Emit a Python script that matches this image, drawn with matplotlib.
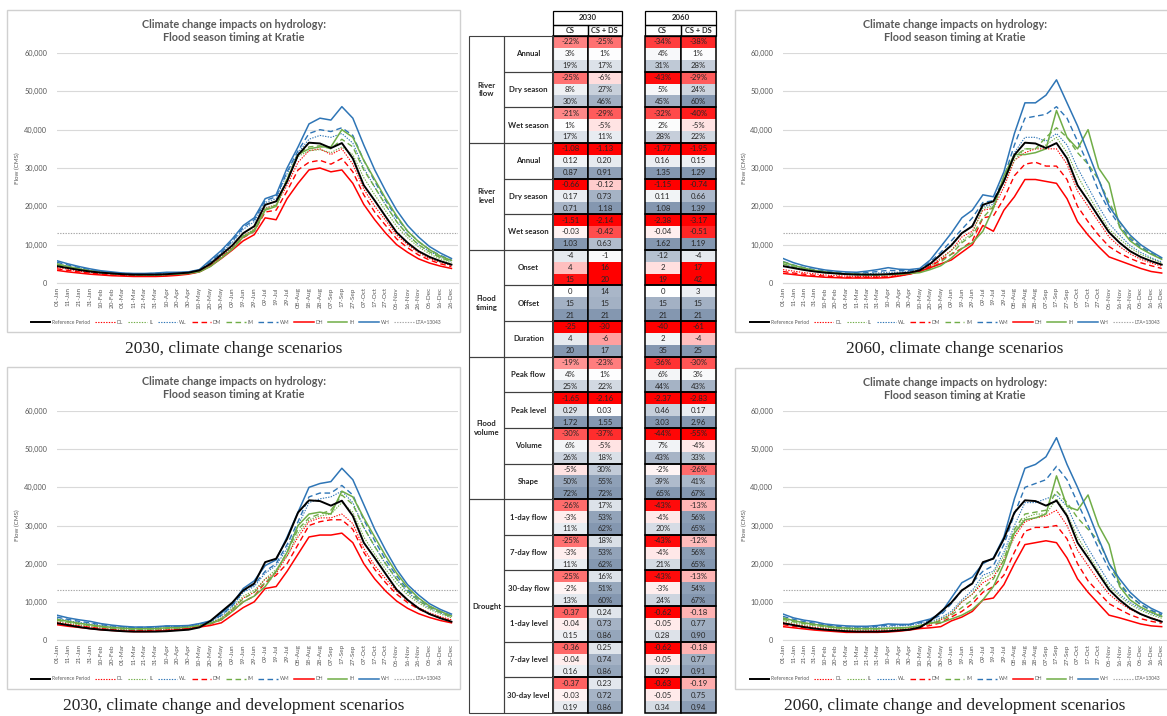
import numpy as np
import matplotlib.pyplot as plt
from matplotlib.patches import Rectangle

plt.rcParams['font.family'] = ['Lato', 'DejaVu Sans']

# x axis: one label every 10 days (leap year)
DATES = ["01-Jan", "11-Jan", "21-Jan", "31-Jan", "10-Feb", "20-Feb", "01-Mar", "11-Mar",
         "21-Mar", "31-Mar", "10-Apr", "20-Apr", "30-Apr", "10-May", "20-May", "30-May",
         "09-Jun", "19-Jun", "29-Jun", "09-Jul", "19-Jul", "29-Jul", "08-Aug", "18-Aug",
         "28-Aug", "07-Sep", "17-Sep", "27-Sep", "07-Oct", "17-Oct", "27-Oct", "06-Nov",
         "16-Nov", "26-Nov", "06-Dec", "16-Dec", "26-Dec"]
LTA = 13043

# flows at Kratie in thousand CMS, read at each date label
REF = [4.4, 3.9, 3.4, 3.0, 2.7, 2.5, 2.3, 2.2, 2.2, 2.2, 2.3, 2.5, 2.7, 3.3, 5.0, 7.4, 9.8, 13.0, 14.8,
       20.4, 21.3, 26.5, 33.4, 36.6, 36.4, 35.2, 36.5, 32.5, 25.5, 21.5, 17.3, 13.2, 10.5, 8.3, 6.8, 5.7, 4.8]

# 2030, climate change scenarios
A_DL = [4.1, 3.6, 3.1, 2.8, 2.5, 2.3, 2.1, 2.0, 2.0, 2.0, 2.1, 2.3, 2.5, 3.1, 4.7, 7.0, 9.2, 12.3, 14.0,
        19.5, 20.3, 25.5, 31.5, 34.5, 35.0, 33.5, 35.0, 31.0, 24.5, 20.0, 16.3, 12.5, 10.0, 7.9, 6.4, 5.4, 4.6]
A_IL = [4.5, 3.9, 3.4, 3.0, 2.6, 2.4, 2.2, 2.1, 2.1, 2.1, 2.2, 2.3, 2.5, 3.0, 4.6, 6.8, 9.2, 12.4, 14.0,
        19.5, 20.5, 27.0, 33.0, 34.5, 34.8, 34.0, 35.5, 33.5, 27.5, 23.0, 18.8, 14.8, 11.8, 9.4, 7.6, 6.3, 5.3]
A_WL = [5.0, 4.4, 3.8, 3.3, 2.9, 2.6, 2.4, 2.3, 2.3, 2.4, 2.6, 2.6, 2.7, 3.3, 5.4, 7.8, 10.6, 14.0, 16.0,
        21.0, 22.0, 28.5, 34.0, 37.5, 38.5, 38.0, 39.0, 36.5, 30.0, 25.0, 20.3, 16.0, 12.6, 10.0, 8.2, 6.8, 5.7]
A_DM = [3.7, 3.3, 2.9, 2.6, 2.3, 2.1, 2.0, 1.9, 1.9, 1.9, 2.0, 2.2, 2.4, 3.0, 4.6, 6.8, 9.0, 11.8, 13.5,
        18.5, 19.0, 24.0, 29.5, 31.5, 32.0, 31.0, 32.5, 29.0, 23.0, 18.5, 15.0, 11.5, 9.2, 7.3, 6.0, 5.0, 4.3]
A_IM = [4.8, 4.1, 3.6, 3.1, 2.7, 2.5, 2.3, 2.2, 2.1, 2.1, 2.2, 2.3, 2.5, 2.9, 4.4, 6.6, 9.0, 12.2, 13.8,
        19.2, 20.2, 27.2, 33.7, 35.5, 35.8, 35.0, 37.5, 35.5, 29.5, 25.0, 20.3, 16.0, 12.6, 10.0, 8.1, 6.6, 5.6]
A_WM = [5.4, 4.7, 4.0, 3.5, 3.0, 2.7, 2.5, 2.4, 2.4, 2.5, 2.7, 2.7, 2.8, 3.4, 5.6, 8.0, 11.0, 14.5, 16.5,
        21.5, 22.5, 29.0, 34.5, 39.0, 40.0, 39.5, 40.5, 38.5, 32.0, 26.5, 21.5, 17.0, 13.5, 10.8, 8.7, 7.2, 6.0]
A_DH = [3.3, 2.9, 2.6, 2.3, 2.1, 1.9, 1.8, 1.7, 1.7, 1.7, 1.8, 2.0, 2.3, 2.9, 4.4, 6.4, 8.6, 11.0, 12.6,
        17.0, 16.5, 22.0, 26.0, 29.5, 30.0, 29.0, 29.5, 26.0, 20.5, 16.5, 13.0, 10.0, 8.0, 6.3, 5.2, 4.4, 3.8]
A_IH = [5.0, 4.3, 3.7, 3.2, 2.8, 2.5, 2.3, 2.2, 2.1, 2.1, 2.2, 2.3, 2.5, 2.9, 4.3, 6.5, 8.8, 12.0, 13.5,
        19.0, 20.0, 27.0, 33.5, 35.0, 35.5, 35.5, 40.0, 38.0, 32.0, 27.0, 22.0, 17.5, 13.5, 10.8, 8.7, 7.0, 5.9]
A_WH = [5.8, 5.0, 4.3, 3.7, 3.2, 2.9, 2.6, 2.5, 2.5, 2.6, 2.8, 2.8, 2.9, 3.5, 6.0, 8.5, 11.5, 15.0, 17.0,
        22.0, 23.0, 30.0, 35.5, 41.5, 43.0, 42.5, 46.0, 43.0, 36.0, 29.5, 24.0, 19.0, 15.0, 12.0, 9.5, 7.8, 6.4]

# 2060, climate change scenarios
B_DL = [3.5, 3.1, 2.7, 2.4, 2.1, 1.9, 1.8, 1.7, 1.7, 1.7, 1.8, 2.0, 2.4, 3.0, 4.5, 6.5, 8.5, 12.0, 13.5,
        19.0, 19.5, 25.0, 32.0, 34.0, 35.0, 35.0, 35.0, 31.0, 24.0, 20.0, 16.0, 12.0, 9.5, 7.6, 6.2, 5.2, 4.4]
B_IL = [4.6, 3.9, 3.4, 3.0, 2.6, 2.4, 2.2, 2.1, 2.1, 2.1, 2.2, 2.3, 2.5, 2.9, 4.2, 6.2, 8.5, 11.0, 13.0,
        19.5, 20.0, 26.5, 32.0, 35.0, 35.0, 36.0, 38.0, 34.0, 28.0, 23.0, 18.5, 14.0, 11.5, 9.2, 7.5, 6.3, 5.3]
B_WL = [5.0, 4.3, 3.7, 3.2, 2.9, 2.6, 2.4, 2.3, 2.4, 2.6, 2.8, 2.8, 3.0, 3.5, 5.2, 7.5, 10.0, 13.0, 15.0,
        20.0, 20.5, 26.5, 34.0, 38.0, 38.0, 37.0, 39.0, 36.0, 30.0, 25.0, 20.0, 15.5, 12.5, 9.8, 8.0, 6.6, 5.5]
B_DM = [3.0, 2.6, 2.3, 2.0, 1.8, 1.6, 1.5, 1.5, 1.5, 1.5, 1.6, 1.9, 2.3, 3.0, 4.3, 6.0, 7.5, 9.0, 11.0,
        17.0, 17.5, 22.0, 28.0, 31.0, 31.5, 30.5, 30.5, 27.0, 20.0, 16.0, 12.5, 9.5, 7.8, 6.4, 5.3, 4.5, 3.8]
B_IM = [5.0, 4.2, 3.6, 3.1, 2.7, 2.5, 2.3, 2.2, 2.1, 2.1, 2.2, 2.3, 2.5, 2.8, 3.8, 5.5, 7.5, 10.5, 12.5,
        17.0, 20.0, 27.0, 33.0, 35.0, 35.0, 38.0, 40.5, 38.0, 34.0, 31.0, 27.0, 21.0, 16.0, 12.0, 9.5, 7.8, 6.4]
B_WM = [5.6, 4.7, 4.0, 3.5, 3.1, 2.8, 2.6, 2.5, 2.7, 3.0, 3.3, 3.2, 3.2, 3.6, 5.5, 8.0, 11.0, 14.0, 17.0,
        21.0, 21.5, 27.5, 36.0, 43.0, 43.5, 44.0, 46.0, 43.0, 37.0, 31.0, 24.0, 19.0, 15.0, 11.5, 9.3, 7.7, 6.3]
B_DH = [2.5, 2.2, 1.9, 1.7, 1.5, 1.4, 1.3, 1.3, 1.3, 1.3, 1.4, 1.8, 2.3, 3.0, 4.0, 5.0, 6.0, 8.0, 10.0,
        15.0, 13.5, 19.0, 22.5, 27.0, 27.0, 26.5, 26.0, 22.0, 16.0, 12.5, 9.5, 6.8, 5.8, 4.8, 3.8, 3.0, 2.6]
B_IH = [5.5, 4.6, 3.9, 3.3, 2.9, 2.6, 2.4, 2.3, 2.2, 2.2, 2.2, 2.3, 2.5, 2.7, 3.5, 4.5, 6.5, 9.0, 10.5,
        13.5, 19.5, 28.0, 33.5, 33.5, 34.0, 35.0, 45.0, 38.0, 35.0, 40.0, 30.0, 26.0, 14.5, 11.0, 9.0, 7.5, 6.2]
B_WH = [6.4, 5.3, 4.5, 3.9, 3.4, 3.1, 2.9, 2.8, 3.1, 3.5, 4.0, 3.6, 3.5, 3.8, 6.0, 9.5, 13.0, 17.0, 19.0,
        23.0, 22.5, 29.0, 39.0, 47.0, 47.0, 49.0, 53.0, 47.0, 41.0, 34.0, 27.0, 20.0, 16.0, 12.5, 10.0, 8.2, 6.6]

# 2030, climate change and development scenarios
C_DL = [4.7, 4.2, 3.8, 3.4, 3.1, 2.8, 2.6, 2.5, 2.5, 2.6, 2.7, 2.9, 3.1, 3.7, 4.4, 5.7, 8.0, 11.0, 12.5,
        16.0, 17.5, 22.0, 27.0, 31.0, 32.0, 32.0, 33.0, 30.5, 24.0, 19.5, 16.0, 12.8, 10.3, 8.5, 7.1, 6.1, 5.3]
C_IL = [5.0, 4.5, 4.0, 3.7, 3.3, 3.0, 2.8, 2.7, 2.7, 2.8, 2.9, 3.0, 3.2, 3.8, 4.5, 5.8, 8.3, 11.5, 13.0,
        16.0, 18.5, 22.0, 28.0, 31.5, 32.5, 33.0, 36.0, 33.5, 27.0, 22.5, 18.5, 14.8, 11.8, 9.7, 8.0, 6.8, 5.8]
C_WL = [5.6, 5.1, 4.6, 4.2, 3.8, 3.5, 3.3, 3.2, 3.2, 3.3, 3.5, 3.5, 3.6, 4.1, 4.8, 6.3, 8.8, 12.5, 14.0,
        17.5, 19.5, 24.0, 30.0, 36.0, 37.0, 37.5, 39.0, 36.0, 29.5, 24.5, 19.8, 15.8, 12.5, 10.2, 8.4, 7.1, 6.1]
C_DM = [4.4, 4.0, 3.6, 3.3, 3.0, 2.7, 2.5, 2.4, 2.4, 2.5, 2.6, 2.8, 3.0, 3.6, 4.2, 5.3, 7.5, 10.0, 11.5,
        15.0, 17.0, 20.0, 25.0, 30.0, 31.0, 31.5, 31.5, 29.0, 23.0, 18.5, 15.0, 12.0, 9.8, 8.1, 6.8, 5.8, 5.0]
C_IM = [5.2, 4.7, 4.2, 3.8, 3.4, 3.1, 2.9, 2.8, 2.8, 2.9, 3.0, 3.1, 3.3, 3.8, 4.4, 5.6, 8.0, 10.8, 12.5,
        15.0, 18.0, 23.0, 29.0, 32.0, 33.0, 34.0, 38.0, 35.5, 29.5, 24.5, 20.0, 16.0, 12.8, 10.3, 8.5, 7.2, 6.1]
C_WM = [6.0, 5.4, 4.9, 4.5, 4.0, 3.7, 3.4, 3.3, 3.3, 3.4, 3.6, 3.6, 3.7, 4.2, 4.9, 6.5, 9.0, 12.8, 14.5,
        18.0, 20.0, 25.0, 31.0, 37.5, 38.5, 38.5, 40.5, 38.0, 31.5, 26.0, 21.0, 16.8, 13.2, 10.8, 8.8, 7.5, 6.4]
C_DH = [4.0, 3.6, 3.3, 3.0, 2.7, 2.5, 2.3, 2.2, 2.2, 2.3, 2.4, 2.6, 2.9, 3.4, 3.8, 4.5, 6.5, 8.5, 10.0,
        13.5, 14.0, 18.0, 22.5, 27.0, 27.5, 27.5, 28.0, 25.5, 20.0, 16.0, 12.8, 10.2, 8.3, 6.9, 5.9, 5.1, 4.5]
C_IH = [5.4, 4.9, 4.4, 4.0, 3.6, 3.3, 3.1, 3.0, 3.0, 3.0, 3.2, 3.3, 3.4, 3.8, 4.3, 5.3, 7.5, 10.0, 11.5,
        14.0, 18.0, 23.0, 30.0, 33.0, 33.5, 33.0, 39.0, 37.5, 32.0, 27.0, 22.0, 17.5, 13.8, 11.0, 8.9, 7.5, 6.3]
C_WH = [6.5, 5.8, 5.3, 4.9, 4.3, 3.9, 3.6, 3.4, 3.4, 3.5, 3.7, 3.7, 3.8, 4.3, 5.0, 7.0, 9.5, 13.5, 15.5,
        19.5, 21.0, 27.0, 33.5, 40.0, 41.0, 41.5, 45.0, 42.0, 35.5, 29.0, 23.5, 18.5, 14.5, 11.8, 9.5, 8.0, 6.8]

# 2060, climate change and development scenarios
D_DL = [4.6, 4.1, 3.7, 3.3, 3.0, 2.7, 2.5, 2.4, 2.4, 2.5, 2.6, 2.8, 3.0, 3.6, 4.2, 5.3, 6.8, 10.0, 12.0,
        15.0, 16.5, 21.0, 27.0, 31.0, 32.0, 32.5, 34.0, 30.0, 23.5, 19.5, 15.5, 12.0, 9.8, 8.0, 6.7, 5.8, 5.0]
D_IL = [5.0, 4.5, 4.0, 3.7, 3.3, 3.0, 2.8, 2.7, 2.7, 2.8, 2.9, 3.0, 3.2, 3.7, 4.3, 5.5, 7.0, 10.0, 12.0,
        16.0, 17.5, 22.0, 28.5, 32.0, 33.0, 33.0, 37.0, 33.0, 27.0, 22.5, 18.0, 14.0, 11.5, 9.3, 7.8, 6.6, 5.7]
D_WL = [5.6, 5.0, 4.5, 4.1, 3.7, 3.4, 3.2, 3.2, 3.2, 3.3, 3.6, 3.7, 3.8, 4.3, 4.8, 5.8, 7.5, 10.5, 13.0,
        17.0, 18.0, 23.0, 30.0, 36.0, 36.0, 37.0, 38.0, 35.0, 29.0, 24.0, 19.5, 15.0, 12.0, 9.8, 8.2, 7.0, 6.0]
D_DM = [4.0, 3.6, 3.2, 2.9, 2.6, 2.4, 2.2, 2.1, 2.1, 2.2, 2.3, 2.5, 2.8, 3.3, 3.8, 4.5, 6.0, 7.5, 9.5,
        12.5, 14.0, 17.0, 23.0, 28.5, 29.5, 29.5, 30.0, 26.5, 20.0, 15.5, 12.5, 9.5, 8.0, 6.6, 5.6, 4.9, 4.4]
D_IM = [5.4, 4.8, 4.3, 3.9, 3.5, 3.2, 3.0, 2.9, 2.9, 2.9, 3.0, 3.1, 3.3, 3.7, 4.4, 5.0, 6.5, 8.5, 10.5,
        13.5, 16.0, 21.0, 29.0, 33.0, 33.5, 34.0, 39.0, 36.0, 32.0, 29.0, 26.0, 20.0, 15.0, 11.5, 9.3, 7.7, 6.5]
D_WM = [6.2, 5.4, 4.8, 4.4, 3.9, 3.6, 3.4, 3.4, 3.4, 3.6, 3.9, 3.9, 4.0, 4.5, 5.2, 6.5, 9.5, 13.0, 15.0,
        18.0, 19.5, 25.0, 33.0, 40.0, 41.0, 42.0, 45.5, 42.0, 36.0, 30.0, 24.0, 18.5, 14.5, 11.5, 9.3, 7.8, 6.6]
D_DH = [3.5, 3.2, 2.9, 2.6, 2.4, 2.2, 2.0, 2.0, 2.0, 2.0, 2.1, 2.3, 2.6, 3.0, 3.2, 3.5, 5.0, 6.0, 7.5,
        10.5, 11.0, 14.5, 20.0, 25.0, 25.5, 26.0, 25.5, 21.5, 16.0, 12.5, 9.5, 6.5, 5.8, 5.0, 4.2, 3.7, 3.5]
D_IH = [5.8, 5.1, 4.5, 4.1, 3.7, 3.3, 3.1, 3.0, 3.0, 3.0, 3.1, 3.2, 3.3, 3.8, 4.5, 4.5, 5.5, 6.5, 8.0,
        10.5, 14.0, 20.0, 28.0, 31.5, 32.0, 33.0, 43.0, 35.0, 34.0, 38.0, 30.0, 25.0, 14.0, 10.5, 8.6, 7.3, 6.2]
D_WH = [6.8, 5.8, 5.2, 4.8, 4.2, 3.9, 3.7, 3.6, 3.6, 3.8, 4.2, 4.1, 4.1, 4.8, 5.5, 7.0, 11.0, 15.0, 16.5,
        20.0, 21.5, 27.0, 37.0, 45.0, 46.0, 48.0, 53.0, 46.0, 40.0, 33.5, 26.5, 20.0, 16.0, 12.5, 10.0, 8.3, 7.0]

# table: change indicators, 3 values (low / mid / high) per indicator
CATEGORIES = ["River\nflow", "River\nlevel", "Flood\ntiming", "Flood\nvolume", "Drought"]
CAT_SIZES = [3, 3, 3, 4, 6]
INDICATORS = ["Annual", "Dry season", "Wet season", "Annual", "Dry season", "Wet season",
              "Onset", "Offset", "Duration", "Peak flow", "Peak level", "Volume", "Shape",
              "1-day flow", "7-day flow", "30-day flow", "1-day level", "7-day level", "30-day level"]
UNITS = ["%", "%", "%", "m", "m", "m", "d", "d", "d", "%", "m", "%", "%", "%", "%", "%", "m", "m", "m"]
T2030_CS = [-22, 3, 19, -25, 8, 30, -21, 1, 17, -1.08, 0.12, 0.87, -0.66, 0.17, 0.71, -1.51, -0.03, 1.03,
            -4, 4, 15, 0, 15, 21, -25, 4, 20, -19, 4, 25, -1.65, 0.29, 1.72, -30, 6, 26, -5, 50, 72,
            -26, -3, 11, -25, -3, 11, -25, -2, 13, -0.37, -0.04, 0.15, -0.36, -0.04, 0.16, -0.37, -0.03, 0.19]
T2030_DS = [-25, 1, 17, -6, 27, 46, -29, -5, 11, -1.13, 0.20, 0.91, -0.12, 0.73, 1.18, -2.14, -0.42, 0.63,
            -1, 16, 20, 14, 15, 21, -30, -6, 17, -23, 1, 22, -2.16, 0.03, 1.55, -37, -5, 18, 30, 55, 72,
            17, 53, 62, 18, 53, 62, 16, 51, 60, 0.24, 0.73, 0.86, 0.25, 0.74, 0.86, 0.23, 0.72, 0.86]
T2060_CS = [-34, 4, 31, -43, 5, 45, -32, 2, 28, -1.77, 0.16, 1.35, -1.15, 0.11, 1.08, -2.38, -0.04, 1.62,
            -12, 2, 19, 0, 15, 21, -40, 2, 35, -36, 6, 44, -2.37, 0.46, 3.03, -44, 7, 43, -2, 39, 65,
            -43, -4, 20, -43, -4, 21, -43, -3, 24, -0.62, -0.05, 0.28, -0.62, -0.05, 0.29, -0.63, -0.05, 0.34]
T2060_DS = [-38, 1, 28, -29, 24, 60, -40, -5, 22, -1.95, 0.15, 1.29, -0.74, 0.66, 1.39, -3.17, -0.51, 1.19,
            -4, 17, 42, 3, 15, 21, -61, -4, 25, -30, 3, 43, -2.83, 0.17, 2.96, -55, -4, 33, -26, 41, 67,
            -13, 56, 65, -12, 56, 65, -13, 54, 67, -0.18, 0.77, 0.90, -0.18, 0.77, 0.91, -0.19, 0.75, 0.94]

RED = "#ff0000"
GREEN = "#70ad47"
BLUE = "#2e75b6"
DOT = (0, (1.2, 1.2))
DASH = (0, (4, 2.5))
STYLES = [("Reference Period", "black", "-", 1.4),
          ("DL", RED, DOT, 0.8), ("IL", GREEN, DOT, 0.8), ("WL", BLUE, DOT, 0.8),
          ("DM", RED, DASH, 1.0), ("IM", GREEN, DASH, 1.0), ("WM", BLUE, DASH, 1.0),
          ("DH", RED, "-", 1.1), ("IH", GREEN, "-", 1.1), ("WH", BLUE, "-", 1.1)]

W, H = 1167, 716
fig = plt.figure(figsize=(W / 100, H / 100), dpi=100)
bg = fig.add_axes([0, 0, 1, 1])
bg.set_xlim(0, W)
bg.set_ylim(H, 0)
bg.axis("off")

GREY = "#595959"


def px_axes(x0, y0, x1, y1):
    return fig.add_axes([x0 / W, 1 - y1 / H, (x1 - x0) / W, (y1 - y0) / H])


def draw_panel(box, plot, series, caption):
    bx0, by0, bx1, by1 = box
    bg.add_patch(Rectangle((bx0, by0), bx1 - bx0, by1 - by0, fill=False, ec="#d0d0d0", lw=1.0))
    cx = (bx0 + min(bx1, 1167 + 6)) / 2 if bx1 < 1200 else 955
    bg.text(cx, by0 + 21, "Climate change impacts on hydrology:\nFlood season timing at Kratie",
            ha="center", va="center", fontsize=7.8, fontweight="bold", color=GREY, linespacing=1.25)
    bg.text(cx, by1 + 17, caption, ha="center", va="center", fontsize=12.5,
            family=["Liberation Serif", "DejaVu Serif"], color="#222222")

    ax = px_axes(*plot)
    days = np.arange(len(DATES)) * 10
    for (label, color, ls, lw), ys in zip(STYLES, series):
        ax.plot(days, np.array(ys) * 1000, color=color, ls=ls, lw=lw, label=label,
                zorder=4 if color == "black" else 3)
    ax.axhline(LTA, color="#a6a6a6", ls=DOT, lw=0.8, label="LTA=13043", zorder=2)

    ax.set_xlim(0, 366)
    ax.set_ylim(0, 60000)
    ax.set_yticks(np.arange(0, 60001, 10000))
    ax.set_yticklabels([f"{v:,}" for v in range(0, 60001, 10000)])
    ax.set_xticks(days)
    ax.set_xticklabels(DATES, rotation=90)
    ax.tick_params(axis="y", length=0, labelsize=5.3, labelcolor=GREY, pad=7)
    ax.tick_params(axis="x", length=0, labelsize=4.6, labelcolor=GREY, pad=3)
    ax.grid(True, axis="y", color="#d9d9d9", lw=0.8)
    ax.set_axisbelow(True)
    for s in ("top", "right", "left"):
        ax.spines[s].set_visible(False)
    ax.spines["bottom"].set_color("#d9d9d9")
    ax.set_ylabel("Flow (CMS)", fontsize=4.5, color=GREY)
    ax.yaxis.set_label_coords(-0.092, 0.5)
    ax.legend(loc="center", bbox_to_anchor=(0.447, -0.17), ncol=11, fontsize=3.5, frameon=False,
              handlelength=4.0, columnspacing=1.0, handletextpad=0.4, labelcolor=GREY)
    return ax


draw_panel((7, 10, 460, 332), (57, 53, 458, 283),
           [REF, A_DL, A_IL, A_WL, A_DM, A_IM, A_WM, A_DH, A_IH, A_WH],
           "2030, climate change scenarios")
draw_panel((735, 10, 1200, 332), (783, 53, 1168, 283),
           [REF, B_DL, B_IL, B_WL, B_DM, B_IM, B_WM, B_DH, B_IH, B_WH],
           "2060, climate change scenarios")
draw_panel((7, 367, 460, 689), (57, 411, 458, 640),
           [REF, C_DL, C_IL, C_WL, C_DM, C_IM, C_WM, C_DH, C_IH, C_WH],
           "2030, climate change and development scenarios")
draw_panel((735, 368, 1200, 689), (783, 411, 1168, 640),
           [REF, D_DL, D_IL, D_WL, D_DM, D_IM, D_WM, D_DH, D_IH, D_WH],
           "2060, climate change and development scenarios")

# ---- table ----
SAT = {"%": (45, 60), "m": (0.6, 1.0), "d": (16, 20)}
SLATE = np.array([132, 151, 176]) / 255
REDC = np.array([255, 0, 0]) / 255
WHITE = np.ones(3)


def cell_color(v, unit, flip):
    s = -v if flip else v
    lo, hi = SAT[unit]
    if s < 0:
        t = min(1.0, -s / lo)
        return WHITE + (REDC - WHITE) * t
    t = min(1.0, s / hi)
    return WHITE + (SLATE - WHITE) * t


def fmt(v, unit):
    if unit == "%":
        return f"{v:.0f}%"
    if unit == "m":
        return f"{v:.2f}"
    return f"{v:.0f}"


TOP, BOT = 36, 713
rh = (BOT - TOP) / (3 * len(INDICATORS))
cols = [(553, 587.5, T2030_CS), (587.5, 622, T2030_DS), (645, 680.5, T2060_CS), (680.5, 716, T2060_DS)]
TXT = "#262626"

for x0, x1, vals in cols:
    for r, v in enumerate(vals):
        k = r // 3
        y = TOP + r * rh
        bg.add_patch(Rectangle((x0, y), x1 - x0, rh, color=cell_color(v, UNITS[k], INDICATORS[k] == "Onset"),
                               lw=0))
        bg.text((x0 + x1) / 2, y + rh / 2, fmt(v, UNITS[k]), ha="center", va="center",
                fontsize=5.6, color=TXT)
    for k in range(len(INDICATORS)):
        bg.add_patch(Rectangle((x0, TOP + 3 * k * rh), x1 - x0, 3 * rh, fill=False, ec="black", lw=1.1))

# headers
for (x0, x1), year in (((553, 622), "2030"), ((645, 716), "2060")):
    bg.add_patch(Rectangle((x0, 11), x1 - x0, 14, fill=False, ec="black", lw=0.9))
    bg.text((x0 + x1) / 2, 18, year, ha="center", va="center", fontsize=5.6, fontweight="bold", color=TXT)
    xm = (x0 + x1) / 2
    for a, b, lab in ((x0, xm, "CS"), (xm, x1, "CS + DS")):
        bg.add_patch(Rectangle((a, 25), b - a, 11, fill=False, ec="black", lw=0.9))
        bg.text((a + b) / 2, 30.5, lab, ha="center", va="center", fontsize=5.4, fontweight="bold", color=TXT)

# row labels
k = 0
for cat, n in zip(CATEGORIES, CAT_SIZES):
    y0 = TOP + 3 * k * rh
    bg.add_patch(Rectangle((469, y0), 35, 3 * n * rh, fill=False, ec="#404040", lw=0.8))
    bg.text(486.5, y0 + 1.5 * n * rh, cat, ha="center", va="center", fontsize=5.6,
            fontweight="bold", color=TXT, linespacing=1.3)
    for j in range(n):
        yy = TOP + 3 * (k + j) * rh
        bg.add_patch(Rectangle((504, yy), 49, 3 * rh, fill=False, ec="#404040", lw=0.8))
        bg.text(528.5, yy + 1.5 * rh, INDICATORS[k + j], ha="center", va="center", fontsize=5.6,
                fontweight="bold", color=TXT)
    k += n

fig.savefig("out.png", dpi=100)
